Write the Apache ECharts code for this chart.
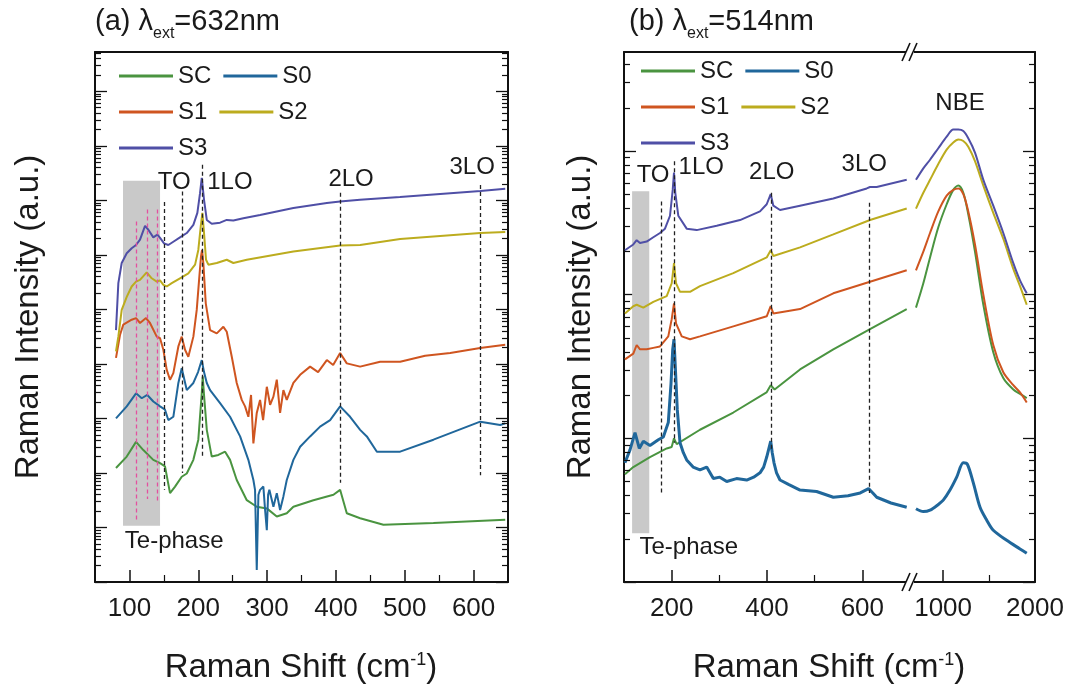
<!DOCTYPE html>
<html>
<head>
<meta charset="utf-8">
<script src="https://cdn.jsdelivr.net/npm/echarts@6/dist/echarts.min.js"></script>
<style>
  html, body { margin: 0; background: #fff; }
  #main { width: 1083px; height: 687px; }
</style>
</head>
<body>
<div id="main"></div>
<script>
const FONT = "Liberation Sans";
const INK = "#1a1a1a";
const names = ["SC", "S0", "S1", "S2", "S3"];
const colors = { SC: "#4a9440", S0: "#20679b", S1: "#cf5520", S2: "#bcac1e", S3: "#4f4fa6" };

// y values are log10 of the Raman intensity (a.u.), so the y axes are decades
// ---- panel (a), 632 nm: x = Raman shift (cm-1)
const a_SC_x = [80.5,96.1,109.6,120.2,134.7,144.5,151.7,159.0,166.3,176.0,183.3,192.9,200.1,205.1,206.5,208.4,212.4,219.6,229.2,239.0,246.2,255.9,270.5,285.0,299.6,314.1,328.6,338.2,367.3,396.4,406.1,415.8,435.2,469.0,541.7,646.0];
const a_SC_y = [2.09,2.30,2.57,2.42,2.24,2.18,2.12,1.63,1.75,1.93,1.99,2.24,2.61,3.46,3.77,3.43,2.79,2.30,2.33,2.39,2.24,1.87,1.50,1.38,1.35,1.20,1.26,1.38,1.50,1.60,1.69,1.26,1.17,1.05,1.08,1.14];
const a_S0_x = [80.5,96.1,109.6,117.9,126.0,134.7,144.5,151.7,156.5,163.8,171.1,176.0,183.3,192.9,199.7,205.1,208.4,212.4,217.2,231.7,246.2,260.8,272.8,280.1,282.5,285.0,287.4,289.8,294.6,297.1,299.6,301.5,303.3,309.2,314.1,318.9,323.7,328.6,338.2,348.0,362.5,377.0,391.6,406.1,420.6,435.2,444.9,459.5,493.3,541.7,609.6,638.7,646.0];
const a_S0_y = [3.00,3.22,3.46,3.37,3.43,3.31,3.22,3.16,2.97,3.03,3.65,3.92,3.52,3.65,3.85,4.07,3.85,3.65,3.52,3.28,3.03,2.67,2.24,1.87,1.69,0.22,1.60,1.69,1.75,1.32,0.95,1.60,1.69,1.38,1.63,1.32,1.57,1.87,2.24,2.48,2.67,2.85,2.97,3.22,3.03,2.79,2.67,2.39,2.39,2.61,2.94,2.88,2.91];
const a_S1_x = [80.5,86.3,91.1,103.3,109.6,115.4,124.1,129.9,139.7,144.5,149.3,154.2,159.0,163.8,171.1,176.0,180.8,185.6,192.9,197.8,201.6,204.0,205.5,207.4,210.9,217.2,226.9,236.5,241.4,248.7,255.9,263.2,268.0,272.8,276.7,280.1,285.0,289.8,294.2,299.6,304.4,309.2,314.1,318.9,323.7,328.6,338.2,348.0,362.5,374.1,386.8,396.0,406.1,415.8,435.2,464.3,493.3,529.6,566.0,609.6,646.0];
const a_S1_y = [4.11,4.53,4.72,4.81,4.84,4.75,4.84,4.75,4.50,4.47,4.26,3.89,3.71,3.83,4.32,4.50,4.26,4.13,4.50,4.99,5.60,5.97,6.09,5.85,5.11,4.62,4.56,4.68,4.59,4.13,3.65,3.34,3.22,3.03,3.43,2.54,3.10,3.34,2.97,3.58,3.25,3.40,3.71,3.10,3.52,3.34,3.65,3.80,3.95,3.85,4.07,3.98,4.20,4.01,3.95,4.04,4.04,4.15,4.20,4.29,4.35];
const a_S2_x = [80.5,83.9,88.8,96.1,103.3,109.6,115.4,125.1,132.4,139.7,144.5,149.3,154.2,161.5,173.5,185.6,195.4,200.1,203.6,206.0,208.4,211.3,214.7,226.9,241.4,251.0,270.5,338.2,406.1,435.2,493.3,609.6,646.0];
const a_S2_y = [4.23,4.50,4.99,5.23,5.42,5.51,5.54,5.68,5.57,5.51,5.53,5.45,5.42,5.48,5.57,5.66,5.82,6.09,6.52,6.77,6.40,5.91,5.82,5.85,5.91,5.85,5.91,6.06,6.17,6.18,6.29,6.40,6.42];
const a_S3_x = [80.5,83.9,88.8,96.1,103.3,109.6,115.4,122.7,127.5,134.7,140.6,144.5,150.3,156.5,163.8,173.5,183.3,192.9,198.7,202.6,205.1,208.4,212.4,219.6,231.7,241.4,251.0,265.5,289.8,338.2,386.8,406.0,435.0,493.0,610.0,646.0];
const a_S3_y = [4.62,5.48,5.85,6.03,6.12,6.18,6.28,6.53,6.46,6.32,6.37,6.31,6.21,6.18,6.24,6.32,6.40,6.55,6.77,7.13,7.41,7.01,6.64,6.57,6.59,6.64,6.63,6.67,6.73,6.86,6.95,6.98,7.01,7.06,7.17,7.21];

// ---- panel (b), 514 nm, below the axis break (100-700 cm-1)
const b_SC_x = [102,119.5,154.5,189.6,200,204.9,210.6,259.4,329.3,399,407.8,416,469.3,539.1,616.1,693.1];
const b_SC_y = [0.75,0.80,0.87,0.93,0.94,1.00,0.96,1.06,1.18,1.32,1.37,1.34,1.48,1.62,1.76,1.90];
const b_S0_x = [102,112.6,123.1,132.1,140.6,154.5,172.0,182.5,192.9,198.6,202.2,204.9,207.6,211.8,217.5,224.5,231.5,245,259.4,273.5,287.4,301,315.5,336,357.4,372,385.3,393,399.4,404,407.8,411,414.7,420,427.3,445,469.3,504,539.1,570,595.6,613.1,622,630.2,660,693.1];
const b_S0_y = [0.83,0.92,1.04,0.93,0.98,0.95,0.99,1.01,1.11,1.38,1.62,1.69,1.50,1.20,0.97,0.90,0.85,0.80,0.78,0.80,0.72,0.73,0.70,0.72,0.71,0.73,0.76,0.80,0.87,0.93,0.98,0.90,0.83,0.76,0.71,0.68,0.64,0.63,0.59,0.60,0.62,0.65,0.62,0.59,0.55,0.52];
const b_S1_x = [102,119.5,126.6,133.6,147.6,161.5,175.5,192.9,200.1,204.9,209.1,221.1,238.5,259.4,329.3,399.4,407.8,413.3,469.3,539.1,616.1,693.1];
const b_S1_y = [1.55,1.59,1.65,1.62,1.62,1.63,1.64,1.71,1.83,1.94,1.80,1.71,1.69,1.71,1.78,1.85,1.92,1.87,1.90,2.01,2.09,2.17];
const b_S2_x = [102,119.5,126.6,140.5,161.5,189.6,200.1,204.9,209.1,217.5,238.5,259.4,329.3,399.4,407.8,413.3,469.3,539.1,616.1,693.1];
const b_S2_y = [1.87,1.92,1.93,1.91,1.95,1.99,2.08,2.22,2.08,2.02,2.02,2.06,2.15,2.26,2.31,2.27,2.33,2.42,2.52,2.60];
const b_S3_x = [102,119.5,126.6,133.6,147.6,161.5,175.5,186,196.5,202.2,204.9,207.6,213.9,231.5,252.5,294.5,343.4,385.3,399.4,407.8,413.3,427.3,469.3,539.1,609.2,616.1,630.2,693.1];
const b_S3_y = [2.31,2.35,2.38,2.36,2.37,2.40,2.43,2.46,2.55,2.73,2.85,2.71,2.55,2.46,2.45,2.48,2.52,2.58,2.63,2.70,2.62,2.59,2.62,2.67,2.74,2.75,2.75,2.80];

// ---- panel (b), above the break (NBE region)
const c_x = [705,785,858,948,1039,1111,1166,1220,1274,1347,1438,1546,1655,1764,1837,1910];
const c_SC_y = [1.91,2.08,2.26,2.47,2.63,2.73,2.76,2.71,2.56,2.30,1.93,1.60,1.42,1.34,1.31,1.28];
const c_S1_y = [2.17,2.30,2.43,2.58,2.69,2.73,2.74,2.70,2.58,2.35,2.00,1.65,1.46,1.37,1.32,1.25];
const c_S2_y = [2.60,2.71,2.80,2.91,3.01,3.06,3.08,3.07,3.03,2.93,2.76,2.57,2.39,2.18,2.06,1.93];
const c_S3_y = [2.80,2.88,2.94,3.02,3.10,3.15,3.15,3.14,3.09,2.99,2.80,2.62,2.43,2.22,2.10,2.01];
const c_S0_x = [705,785,858,948,1002,1075,1148,1220,1264,1329,1402,1475,1546,1692,1837,1910];
const c_S0_y = [0.51,0.49,0.50,0.54,0.57,0.64,0.73,0.83,0.82,0.69,0.52,0.43,0.36,0.29,0.23,0.20];

// ---- axes
const aRange = [50, 650], bRange = [100, 700], cRange = [640, 2000];
const aTicks = [100, 200, 300, 400, 500, 600];
const aMinor = [150, 250, 350, 450, 550];
const bTicks = [200, 400, 600];
const bMinor = [300, 500];
const cTicks = [1000, 2000];
const cMinor = [1500];
const aDecades = [0, 1, 2, 3, 4, 5, 6, 7, 8, 9];
const bDecades = [0, 1, 2, 3];
const logMinorSteps = [2, 3, 4, 5, 6, 7, 8, 9];
const aTop = 9.72, bTop = 3.69;

// ---- annotations [text, x, log10 y]
const aLabels = [["TO", 165, 7.32], ["1LO", 246, 7.32], ["2LO", 422, 7.39], ["3LO", 598, 7.6], ["Te-phase", 165, 0.75]];
const bLabels = [["TO", 161, 2.83], ["1LO", 262, 2.89], ["2LO", 410, 2.85], ["3LO", 604, 2.91], ["Te-phase", 236, 0.24]];
const cLabels = [["NBE", 1184, 3.33]];
// dashed guides [x, top, bottom]
const aDash = [[150, 6.97, 1.69], [176.5, 7.16, 2.0], [205.5, 7.65, 2.29], [406, 7.14, 1.82], [610, 7.28, 1.96]];
const aPink = [[110, 6.61, 1.14], [125.6, 6.83, 1.52], [140, 6.83, 1.45]];
const bDash = [[178, 2.65, 0.62], [205, 2.93, 0.97], [408, 2.71, 0.92], [614, 2.64, 0.62]];
// Te-phase band [x0, x1, y0, y1]
const aTe = [90.7, 144.5, 1.03, 7.36];
const bTe = [117, 153, 0.34, 2.72];

// plot boxes in px
const boxA = { left: 95, top: 52, width: 413, height: 530 };
const boxB = { left: 624, top: 52, width: 286, height: 530 };
const boxC = { left: 910, top: 52, width: 125, height: 530 };

const pts = (xs, ys) => xs.map((x, i) => [x, ys[i]]);
const minorVals = (decs, top) => {
  const out = [];
  decs.forEach(d => logMinorSteps.forEach(k => {
    const v = Math.round((d + Math.log10(k)) * 1000) / 1000;
    if (v < top) out.push(v);
  }));
  return out;
};
// short inner ticks (log minors on y, half steps on x) drawn as marker segments
function minorTicks(xr, top, box, sides, yVals, xVals) {
  const dx = 6 * (xr[1] - xr[0]) / box.width;
  const dy = 7 * top / box.height;
  const st = { type: "solid", color: "#111", width: 1.2 };
  const segs = [];
  sides.forEach(s => {
    const x0 = s === "left" ? xr[0] : xr[1];
    const x1 = s === "left" ? xr[0] + dx : xr[1] - dx;
    yVals.forEach(v => segs.push([{ coord: [x0, v], lineStyle: st }, { coord: [x1, v] }]));
  });
  xVals.forEach(v => segs.push([{ coord: [v, 0], lineStyle: st }, { coord: [v, dy] }]));
  return segs;
}

const axisLineStyle = { color: "#111", width: 2 };

function xMain(grid, r, ticks) {
  return {
    type: "value", gridIndex: grid, position: "bottom", min: r[0], max: r[1],
    axisLine: { show: true, onZero: false, lineStyle: axisLineStyle },
    axisTick: { show: true, inside: true, length: 12, customValues: ticks, lineStyle: { color: "#111", width: 1.5 } },
    axisLabel: { show: true, customValues: ticks, fontSize: 26, color: INK, margin: 14, fontFamily: FONT,
      formatter: v => String(v) },
    splitLine: { show: false }
  };
}
function xTop(grid, r) {
  return {
    type: "value", gridIndex: grid, position: "top", min: r[0], max: r[1],
    axisLine: { show: true, onZero: false, lineStyle: axisLineStyle },
    axisTick: { show: false }, axisLabel: { show: false }, splitLine: { show: false }
  };
}
function yDec(grid, pos, top, ticks, name, gap) {
  return {
    type: "value", gridIndex: grid, position: pos, min: 0, max: top,
    name: name || "", nameLocation: "middle", nameGap: gap || 0,
    nameTextStyle: { fontSize: 33, color: INK, fontFamily: FONT },
    axisLine: { show: true, onZero: false, lineStyle: axisLineStyle },
    axisTick: { show: true, inside: true, length: 12, customValues: ticks, lineStyle: { color: "#111", width: 1.3 } },
    axisLabel: { show: false }, splitLine: { show: false }
  };
}

function curves(sets, axesFor, width, smooth) {
  return names.map(n => ({
    name: n, type: "line", xAxisIndex: axesFor[n][0], yAxisIndex: axesFor[n][1],
    data: pts(sets[n][0], sets[n][1]),
    showSymbol: false, symbol: "none", z: 3, smooth: smooth,
    lineStyle: { color: colors[n], width: n === "S0" ? width : 2 },
    itemStyle: { color: colors[n] }
  }));
}
function guides(xi, yi, te, dashes, pinks, ticks) {
  const lines = dashes.map(d => [{ coord: [d[0], d[1]] }, { coord: [d[0], d[2]] }])
    .concat(pinks.map(d => [{ coord: [d[0], d[1]], lineStyle: { color: "#e4509f" } }, { coord: [d[0], d[2]] }]))
    .concat(ticks);
  const s = {
    type: "line", xAxisIndex: xi, yAxisIndex: yi, data: [], z: 1, silent: true,
    markLine: { silent: true, symbol: ["none", "none"], label: { show: false },
      lineStyle: { type: [4, 3], width: 1.3, color: "#222" }, data: lines }
  };
  if (te) {
    s.markArea = { silent: true, itemStyle: { color: "#c9c9c9" },
      data: [[{ coord: [te[0], te[2]] }, { coord: [te[1], te[3]] }]] };
  }
  return s;
}
function labels(list, xi, yi) {
  return {
    type: "scatter", xAxisIndex: xi, yAxisIndex: yi, symbolSize: 0, silent: true, z: 6,
    itemStyle: { color: INK, opacity: 1 },
    data: list.map(d => ({ name: d[0], value: [d[1], d[2]] })),
    label: { show: true, position: "inside", formatter: q => q.name, fontSize: 24, color: INK,
      fontFamily: FONT, textBorderWidth: 0, opacity: 1 }
  };
}

const aSets = { SC: [a_SC_x, a_SC_y], S0: [a_S0_x, a_S0_y], S1: [a_S1_x, a_S1_y], S2: [a_S2_x, a_S2_y], S3: [a_S3_x, a_S3_y] };
const bSets = { SC: [b_SC_x, b_SC_y], S0: [b_S0_x, b_S0_y], S1: [b_S1_x, b_S1_y], S2: [b_S2_x, b_S2_y], S3: [b_S3_x, b_S3_y] };
const cSets = { SC: [c_x, c_SC_y], S0: [c_S0_x, c_S0_y], S1: [c_x, c_S1_y], S2: [c_x, c_S2_y], S3: [c_x, c_S3_y] };

const titleRich = {
  m: { fontSize: 29, fontWeight: "normal", color: INK, fontFamily: FONT, verticalAlign: "top" },
  s: { fontSize: 16, fontWeight: "normal", color: INK, fontFamily: FONT, verticalAlign: "top", padding: [19, 0, 0, 0] }
};
const axisTitleRich = {
  m: { fontSize: 33, fontWeight: "normal", color: INK, fontFamily: FONT, verticalAlign: "top" },
  s: { fontSize: 18, fontWeight: "normal", color: INK, fontFamily: FONT, verticalAlign: "top" }
};
const legendBase = {
  data: names, width: 200, itemWidth: 54, itemHeight: 3, itemGap: 12, icon: "rect", padding: 0,
  selectedMode: false, textStyle: { fontSize: 24, color: INK, fontFamily: FONT, lineHeight: 20 }
};

function breakMark(y) {
  return [
    { type: "rect", z: 100, shape: { x: 906, y: y - 3, width: 8, height: 6 }, style: { fill: "#fff" } },
    { type: "line", z: 101, shape: { x1: 902, y1: y + 9, x2: 910, y2: y - 9 }, style: { stroke: "#111", lineWidth: 1.6 } },
    { type: "line", z: 101, shape: { x1: 909, y1: y + 9, x2: 917, y2: y - 9 }, style: { stroke: "#111", lineWidth: 1.6 } }
  ];
}

const aMinTicks = minorTicks(aRange, aTop, boxA, ["left", "right"], minorVals(aDecades, aTop), aMinor);
const bMinTicks = minorTicks(bRange, bTop, boxB, ["left"], minorVals(bDecades, bTop), bMinor);
const cMinTicks = minorTicks(cRange, bTop, boxC, ["right"], minorVals(bDecades, bTop), cMinor);

const chart = echarts.init(document.getElementById("main"), null, { renderer: "canvas" });
chart.setOption({
  animation: false,
  backgroundColor: "#fff",
  textStyle: { fontFamily: FONT },
  title: [
    { text: "{m|(a) λ}{s|ext}{m|=632nm}", left: 95, top: 7, padding: 0, textStyle: { fontWeight: "normal", rich: titleRich } },
    { text: "{m|(b) λ}{s|ext}{m|=514nm}", left: 629, top: 7, padding: 0, textStyle: { fontWeight: "normal", rich: titleRich } },
    { text: "{m|Raman Shift (cm}{s|-1}{m|)}", left: 301, top: 651, textAlign: "center", padding: 0, textStyle: { fontWeight: "normal", rich: axisTitleRich } },
    { text: "{m|Raman Shift (cm}{s|-1}{m|)}", left: 829, top: 651, textAlign: "center", padding: 0, textStyle: { fontWeight: "normal", rich: axisTitleRich } }
  ],
  legend: [
    Object.assign({ left: 119, top: 64 }, legendBase),
    Object.assign({ left: 641, top: 59 }, legendBase)
  ],
  grid: [boxA, boxB, boxC].map(b => Object.assign({ outerBoundsMode: "none" }, b)),
  xAxis: [
    xMain(0, aRange, aTicks), xTop(0, aRange),
    xMain(1, bRange, bTicks), xTop(1, bRange),
    xMain(2, cRange, cTicks), xTop(2, cRange)
  ],
  yAxis: [
    yDec(0, "left", aTop, aDecades, "Raman Intensity (a.u.)", 50),
    yDec(0, "right", aTop, aDecades),
    yDec(1, "left", bTop, bDecades, "Raman Intensity (a.u.)", 27),
    yDec(2, "right", bTop, bDecades)
  ],
  graphic: breakMark(52).concat(breakMark(582)),
  series: [
    guides(0, 0, aTe, aDash, aPink, aMinTicks),
    guides(2, 2, bTe, bDash, [], bMinTicks),
    guides(4, 3, null, [], [], cMinTicks),
    ...curves(aSets, { SC: [0, 0], S0: [0, 0], S1: [0, 0], S2: [0, 1], S3: [0, 0] }, 2, false),
    ...curves(bSets, { SC: [2, 2], S0: [2, 2], S1: [2, 2], S2: [2, 2], S3: [2, 2] }, 3, false),
    ...curves(cSets, { SC: [4, 3], S0: [4, 3], S1: [4, 3], S2: [4, 3], S3: [4, 3] }, 3, 0.3),
    labels(aLabels, 0, 0),
    labels(bLabels, 2, 2),
    labels(cLabels, 4, 3)
  ]
});
</script>
</body>
</html>
